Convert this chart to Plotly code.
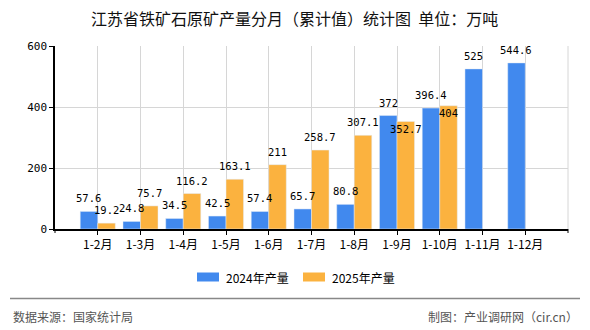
import plotly.graph_objects as go

categories = ["1-2月", "1-3月", "1-4月", "1-5月", "1-6月", "1-7月", "1-8月", "1-9月", "1-10月", "1-11月", "1-12月"]
values_2024 = [57.6, 24.8, 34.5, 42.5, 57.4, 65.7, 80.8, 372, 396.4, 525, 544.6]
values_2025 = [19.2, 75.7, 116.2, 163.1, 211, 258.7, 307.1, 352.7, 404, None, None]
series_names = ["2024年产量", "2025年产量"]
y_ticks = [0, 200, 400, 600]

title_text = "江苏省铁矿石原矿产量分月（累计值）统计图  单位：万吨"
source_text = "数据来源：国家统计局"
credit_text = "制图：产业调研网（cir.cn）"

BLUE = "#4189EE"
ORANGE = "#FBB23F"
W, H = 590, 330
ML, MR, MT, MB = 55, 22, 46, 101
PW, PH = W - ML - MR, H - MT - MB

def px(x):
    return (x - ML) / PW

def py(y):
    return (H - MB - y) / PH

CJK = "Noto Sans CJK SC"
MONO = "DejaVu Sans Mono"

fig = go.Figure()
fig.add_trace(go.Bar(x=categories, y=values_2024, name=series_names[0], marker_color=BLUE, showlegend=False))
fig.add_trace(go.Bar(x=categories, y=values_2025, name=series_names[1], marker_color=ORANGE, showlegend=False))

# data labels (shifted where the original chart moved overlapping labels)
label_shift = {(1, 7): -16, (1, 8): -15}
annotations = []
for si, vals in enumerate([values_2024, values_2025]):
    for ci, v in enumerate(vals):
        if v is None:
            continue
        annotations.append(dict(
            x=categories[ci], y=v, xref="x", yref="y",
            text=f"{v:g}", showarrow=False, yanchor="bottom",
            xshift=-8.8 if si == 0 else 8.8,
            yshift=label_shift.get((si, ci), 5),
            font=dict(family=MONO, size=10.5, color="#000"),
        ))

# title
annotations.append(dict(x=px(294), y=py(18), xref="paper", yref="paper", text=title_text,
                        showarrow=False, font=dict(family=CJK, size=16, color="#111"),
                        xanchor="center", yanchor="middle"))
# legend texts
annotations.append(dict(x=px(224), y=py(277), xref="paper", yref="paper", text=series_names[0],
                        showarrow=False, font=dict(family=CJK, size=12, color="#000"),
                        xanchor="left", yanchor="middle"))
annotations.append(dict(x=px(330), y=py(277), xref="paper", yref="paper", text=series_names[1],
                        showarrow=False, font=dict(family=CJK, size=12, color="#000"),
                        xanchor="left", yanchor="middle"))
# footer
annotations.append(dict(x=px(11), y=py(316), xref="paper", yref="paper", text=source_text,
                        showarrow=False, font=dict(family=CJK, size=12, color="#555"),
                        xanchor="left", yanchor="middle"))
annotations.append(dict(x=px(580), y=py(316), xref="paper", yref="paper", text=credit_text,
                        showarrow=False, font=dict(family=CJK, size=12, color="#555"),
                        xanchor="right", yanchor="middle"))

shapes = [
    # legend swatches
    dict(type="rect", xref="paper", yref="paper", x0=px(197), x1=px(219), y0=py(272.5), y1=py(281.5),
         fillcolor=BLUE, line=dict(width=0)),
    dict(type="rect", xref="paper", yref="paper", x0=px(303), x1=px(325), y0=py(272.5), y1=py(281.5),
         fillcolor=ORANGE, line=dict(width=0)),
    # footer separator
    dict(type="line", xref="paper", yref="paper", x0=px(10), x1=px(580), y0=py(298.5), y1=py(298.5),
         line=dict(color="#888", width=1.5)),
    # right boundary grid line
    dict(type="line", xref="paper", yref="paper", x0=1, x1=1, y0=0, y1=1,
         line=dict(color="#d6d6d6", width=1), layer="below"),
    # boundary ticks on x axis
    dict(type="line", xref="paper", yref="paper", x0=0, x1=0, y0=0, y1=py(233),
         line=dict(color="#000", width=1)),
    dict(type="line", xref="paper", yref="paper", x0=1, x1=1, y0=0, y1=py(233),
         line=dict(color="#000", width=1)),
]

fig.update_layout(
    width=W, height=H,
    margin=dict(l=ML, r=MR, t=MT, b=MB),
    paper_bgcolor="white", plot_bgcolor="white",
    barmode="group", bargap=0.18, bargroupgap=0,
    annotations=annotations, shapes=shapes,
    showlegend=False,
    xaxis=dict(
        type="category", range=[-1, len(categories)],
        showgrid=True, gridcolor="#d6d6d6", gridwidth=1,
        showline=True, linecolor="#000", linewidth=1.5,
        ticks="outside", ticklen=4, tickcolor="#000",
        tickfont=dict(family=CJK, size=12, color="#000"),
        fixedrange=True,
    ),
    yaxis=dict(
        range=[0, 600], tickvals=y_ticks,
        showgrid=True, gridcolor="#d6d6d6", gridwidth=1,
        showline=True, linecolor="#000", linewidth=1.5,
        ticks="outside", ticklen=4, tickcolor="#000",
        tickfont=dict(family=MONO, size=11, color="#000"),
        zeroline=False, fixedrange=True,
    ),
)

fig.write_html("out.html")
